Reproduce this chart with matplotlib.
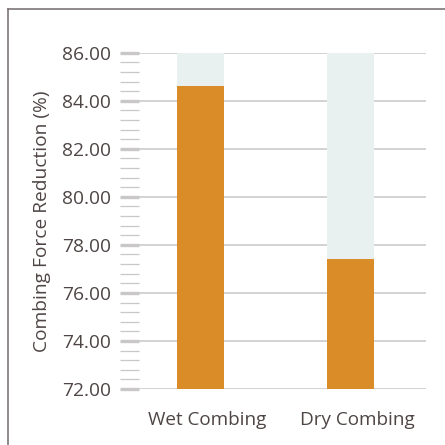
import matplotlib.pyplot as plt
from matplotlib.lines import Line2D
from matplotlib.ticker import MultipleLocator, FormatStrFormatter
from matplotlib.transforms import ScaledTranslation

plt.rcParams['font.family'] = ['Open Sans', 'DejaVu Sans']

categories = ["Wet Combing", "Dry Combing"]
reduction = [84.6, 77.4]
scale_max = [86.0, 86.0]
y_ticks = [72, 74, 76, 78, 80, 82, 84, 86]

TEXT = "#4e4544"
ORANGE = "#d98c27"
TRACK = "#e9f1f0"
GRID = "#d2d2d2"
TICK = "#c9c7c7"

fig = plt.figure(figsize=(4.45, 4.45), dpi=100)
ax = fig.add_axes([0.3124, 0.1258, 0.6449, 0.7558])

x = range(len(categories))
base = 72
ax.bar(x, [m - base for m in scale_max], bottom=base, width=0.313,
       color=TRACK, zorder=2)
ax.bar(x, [v - base for v in reduction], bottom=base, width=0.313,
       color=ORANGE, zorder=3)

ax.set_xlim(-0.41, 1.503)
ax.set_ylim(72, 86)
ax.set_yticks(y_ticks)
ax.yaxis.set_major_formatter(FormatStrFormatter("%.2f"))
ax.yaxis.set_minor_locator(MultipleLocator(0.4))
ax.grid(axis="y", color=GRID, linewidth=1.4, zorder=1)
ax.set_axisbelow(True)

for s in ax.spines.values():
    s.set_visible(False)

ax.tick_params(axis="y", which="major", direction="out", length=14, width=2.4,
               color=TICK, labelsize=13.8, labelcolor=TEXT, pad=6)
ax.tick_params(axis="y", which="minor", direction="out", length=14, width=0.9,
               color=TICK)
ax.set_xticks(list(x))
ax.set_xticklabels(categories)
ax.tick_params(axis="x", length=0, labelsize=13.6, labelcolor=TEXT, pad=16)
for lbl in ax.get_xticklabels():
    lbl.set_transform(lbl.get_transform() + ScaledTranslation(0.07, 0, fig.dpi_scale_trans))

ax.set_ylabel("Combing Force Reduction (%)", fontsize=13.8, color=TEXT, labelpad=8)

# frame lines along the top and left edge
fig.add_artist(Line2D([8 / 445, 8 / 445], [0, 1 - 9 / 445], transform=fig.transFigure,
                      color="#7d7575", linewidth=1.2))
fig.add_artist(Line2D([8 / 445, 1], [1 - 9 / 445, 1 - 9 / 445], transform=fig.transFigure,
                      color="#7d7575", linewidth=1.2))

fig.savefig("out.png", dpi=100)
